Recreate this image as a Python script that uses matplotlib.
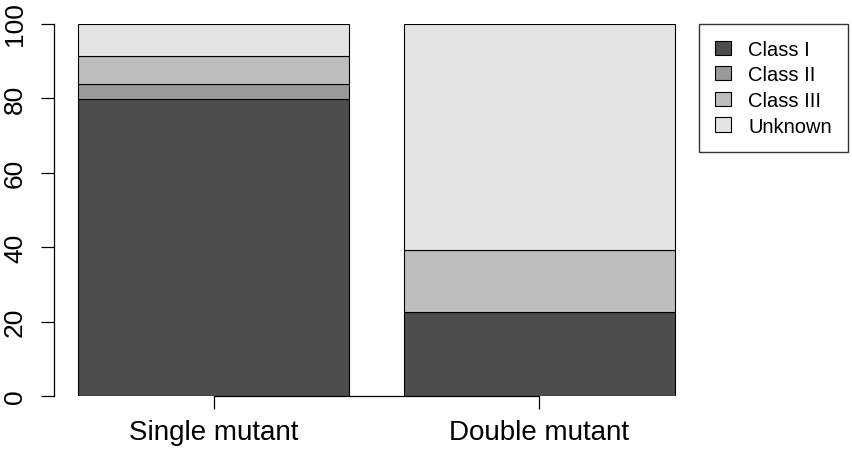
import matplotlib
matplotlib.use("Agg")
import matplotlib.pyplot as plt
import numpy as np

plt.rcParams['font.family'] = ['Liberation Sans', 'DejaVu Sans']

groups = ["Single mutant", "Double mutant"]
classes = ["Class I", "Class II", "Class III", "Unknown"]
class_1 = [79.6, 22.6]
class_2 = [4.1, 0.0]
class_3 = [7.6, 16.5]
unknown = [8.7, 60.9]
colors = ["#4d4d4d", "#999999", "#bdbdbd", "#e4e4e4"]

W, H = 852, 452
fig = plt.figure(figsize=(W / 100, H / 100), dpi=100)
# plot region in pixels: x 54..699, y 24.5..397
ax = fig.add_axes([54 / W, (H - 397) / H, (699 - 54) / W, (397 - 24.5) / H])

# R barplot layout: width 1, space 0.2
x = np.array([0.7, 1.9])
series = [class_1, class_2, class_3, unknown]
bottom = np.zeros(len(groups))
for vals, col, lab in zip(series, colors, classes):
    ax.bar(x, vals, width=1.0, bottom=bottom, color=col, edgecolor="black",
           linewidth=0.8, label=lab)
    bottom += np.array(vals)

span = 2.2
ax.set_xlim(0.2 - 0.04 * span, 2.4 + 0.04 * span)
ax.set_ylim(0, 100)

for s in ["top", "right"]:
    ax.spines[s].set_visible(False)
ax.spines["bottom"].set_bounds(x[0], x[-1])
ax.spines["bottom"].set_linewidth(0.9)
ax.spines["left"].set_linewidth(0.9)

ax.set_xticks(x)
ax.set_xticklabels(groups, fontsize=20)
ax.set_yticks([0, 20, 40, 60, 80, 100])
ax.set_yticklabels(["0", "20", "40", "60", "80", "100"], fontsize=19,
                   rotation=90, va="center")
ax.tick_params(axis="both", length=9.5, width=0.9, direction="out")
ax.tick_params(axis="x", pad=7)
ax.tick_params(axis="y", pad=10)

leg = ax.legend(loc="upper left", bbox_to_anchor=(1.0, 1.0), borderaxespad=0,
                fontsize=14.5, frameon=True, fancybox=False, handlelength=0.8,
                handleheight=0.7, handletextpad=0.85, labelspacing=0.33,
                borderpad=0.8)
leg.get_frame().set_edgecolor("black")
leg.get_frame().set_linewidth(1.0)

fig.savefig("out.png", dpi=100)
